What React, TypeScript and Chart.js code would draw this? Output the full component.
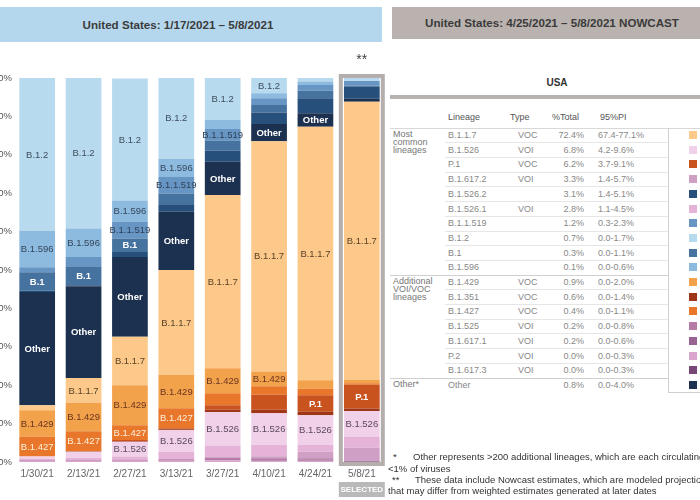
import React, { useEffect, useRef } from "react";
import { Chart, registerables } from "chart.js";

Chart.register(...registerables);

// ---------- data ----------
const dates = ["1/30/21", "2/13/21", "2/27/21", "3/13/21", "3/27/21", "4/10/21", "4/24/21", "5/8/21"];

// stacked from bottom to top
const s_B1_617_3 = [0, 0, 0, 0, 0, 0, 0, 0.0];
const s_P2 = [0.3, 0.3, 0.3, 0.3, 0.4, 0.3, 0.3, 0.0];
const s_B1_617_1 = [0, 0, 0, 0, 0, 0.2, 0.3, 0.2];
const s_B1_525 = [0.3, 0.3, 0.3, 0.4, 0.7, 0.5, 0.4, 0.2];
const s_B1_617_2 = [0, 0, 0, 0, 0.2, 0.5, 1.7, 3.3];
const s_B1_526_1 = [0.2, 0.5, 0.8, 2.0, 3.0, 3.0, 1.7, 2.8];
const s_B1_526 = [0.6, 1.6, 3.9, 5.6, 8.7, 8.2, 7.8, 6.8];
const s_B1_351 = [0, 0.1, 0.2, 0.2, 0.6, 0.9, 0.9, 0.6];
const s_P1 = [0, 0, 0.2, 0.3, 1.2, 3.9, 4.3, 6.2];
const s_B1_427 = [5.2, 5.2, 3.9, 5.2, 3.1, 2.2, 1.7, 0.4];
const s_B1_429 = [6.9, 7.4, 10.4, 8.7, 6.5, 3.9, 2.2, 0.9];
const s_B1_1_7 = [1.3, 6.5, 12.6, 27.3, 45.1, 59.9, 66.0, 72.4];
const s_Other = [29.5, 23.9, 20.8, 15.2, 8.7, 4.5, 3.5, 0.8];
const s_B1_526_2 = [0.3, 0.2, 1.3, 1.7, 2.9, 3.0, 3.9, 3.1];
const s_B1 = [4.8, 4.8, 3.5, 3.0, 2.6, 2.0, 2.0, 0.3];
const s_B1_1_519 = [1.3, 2.6, 4.3, 4.3, 3.0, 1.7, 1.5, 1.2];
const s_B1_596 = [9.5, 7.4, 5.6, 4.8, 2.4, 1.3, 0.9, 0.1];
const s_B1_2 = [39.8, 39.2, 31.8, 21.1, 10.9, 4.0, 1.0, 0.7];

const stackOrder: [string, number[]][] = [
  ["B.1.617.3", s_B1_617_3],
  ["P.2", s_P2],
  ["B.1.617.1", s_B1_617_1],
  ["B.1.525", s_B1_525],
  ["B.1.617.2", s_B1_617_2],
  ["B.1.526.1", s_B1_526_1],
  ["B.1.526", s_B1_526],
  ["B.1.351", s_B1_351],
  ["P.1", s_P1],
  ["B.1.427", s_B1_427],
  ["B.1.429", s_B1_429],
  ["B.1.1.7", s_B1_1_7],
  ["Other", s_Other],
  ["B.1.526.2", s_B1_526_2],
  ["B.1", s_B1],
  ["B.1.1.519", s_B1_1_519],
  ["B.1.596", s_B1_596],
  ["B.1.2", s_B1_2],
];

// lineages that carry a text label inside each bar
const labeledPerDate = [
  ["B.1.2", "B.1.596", "B.1", "Other", "B.1.429", "B.1.427"],
  ["B.1.2", "B.1.596", "B.1", "Other", "B.1.1.7", "B.1.429", "B.1.427"],
  ["B.1.2", "B.1.596", "B.1.1.519", "B.1", "Other", "B.1.1.7", "B.1.429", "B.1.427", "B.1.526"],
  ["B.1.2", "B.1.596", "B.1.1.519", "Other", "B.1.1.7", "B.1.429", "B.1.427", "B.1.526"],
  ["B.1.2", "B.1.1.519", "Other", "B.1.1.7", "B.1.429", "B.1.526"],
  ["B.1.2", "Other", "B.1.1.7", "B.1.429", "B.1.526"],
  ["Other", "B.1.1.7", "P.1", "B.1.526"],
  ["B.1.1.7", "P.1", "B.1.526"],
];

const yTicks = [0, 10, 20, 30, 40, 50, 60, 70, 80, 90, 100];

// Nowcast table
const tLineages = ["B.1.1.7", "B.1.526", "P.1", "B.1.617.2", "B.1.526.2", "B.1.526.1", "B.1.1.519", "B.1.2", "B.1", "B.1.596", "B.1.429", "B.1.351", "B.1.427", "B.1.525", "B.1.617.1", "P.2", "B.1.617.3", "Other"];
const tTypes = ["VOC", "VOI", "VOC", "VOI", "", "VOI", "", "", "", "", "VOC", "VOC", "VOC", "VOI", "VOI", "VOI", "VOI", ""];
const tTotals = ["72.4%", "6.8%", "6.2%", "3.3%", "3.1%", "2.8%", "1.2%", "0.7%", "0.3%", "0.1%", "0.9%", "0.6%", "0.4%", "0.2%", "0.2%", "0.0%", "0.0%", "0.8%"];
const tPI = ["67.4-77.1%", "4.2-9.6%", "3.7-9.1%", "1.4-5.7%", "1.4-5.1%", "1.1-4.5%", "0.3-2.3%", "0.0-1.7%", "0.0-1.1%", "0.0-0.6%", "0.0-2.0%", "0.0-1.4%", "0.0-1.1%", "0.0-0.8%", "0.0-0.6%", "0.0-0.3%", "0.0-0.3%", "0.0-4.0%"];
const tGroups: [number, string[]][] = [
  [0, ["Most", "common", "lineages"]],
  [10, ["Additional", "VOI/VOC", "lineages"]],
  [17, ["Other*"]],
];

// ---------- styles ----------
const colorOf: Record<string, string> = {
  "B.1.2": "#b8daee",
  "B.1.596": "#8dbadf",
  "B.1.1.519": "#6896c4",
  "B.1": "#45729f",
  "B.1.526.2": "#274f7b",
  "Other": "#1c3050",
  "B.1.1.7": "#fdc98b",
  "B.1.429": "#f3a24c",
  "B.1.427": "#e8772b",
  "P.1": "#c9531f",
  "B.1.351": "#9f3617",
  "B.1.526": "#f1d1ea",
  "B.1.526.1": "#e6b3d8",
  "B.1.617.2": "#cf9fc6",
  "B.1.525": "#b57aa5",
  "B.1.617.1": "#9a6392",
  "P.2": "#daa5cd",
  "B.1.617.3": "#774777",
};

const labelColorOf: Record<string, string> = {
  "B.1.2": "#3e4d5e",
  "B.1.596": "#34475c",
  "B.1.1.519": "#2e3f55",
  "B.1": "#ffffff",
  "Other": "#ffffff",
  "B.1.1.7": "#5a4226",
  "B.1.429": "#6a3420",
  "B.1.427": "#fff0dc",
  "P.1": "#ffffff",
  "B.1.526": "#5a4a5a",
};

const FONT = "Arial, 'Liberation Sans', sans-serif";

const labelPlugin = {
  id: "segLabels",
  afterDatasetsDraw(chart: any) {
    const ctx = chart.ctx;
    ctx.save();
    ctx.textAlign = "center";
    ctx.textBaseline = "middle";
    chart.data.datasets.forEach((ds: any, i: number) => {
      const meta = chart.getDatasetMeta(i);
      meta.data.forEach((el: any, j: number) => {
        if (!labeledPerDate[j].includes(ds.label)) return;
        const y = (el.y + el.base) / 2;
        const bold = ds.label === "Other" || ds.label === "B.1" || ds.label === "P.1";
        ctx.font = (bold ? "bold " : "") + "9.5px " + FONT;
        ctx.fillStyle = labelColorOf[ds.label] || "#333";
        ctx.fillText(ds.label, el.x, y + 0.5);
      });
    });
    ctx.restore();
  },
};

const selectedPlugin = {
  id: "selected",
  afterDatasetsDraw(chart: any) {
    const ctx = chart.ctx;
    const ca = chart.chartArea;
    const cx = chart.scales.x.getPixelForValue(dates.length - 1);
    ctx.save();
    ctx.strokeStyle = "#b4afac";
    ctx.lineWidth = 4;
    ctx.strokeRect(cx - 21, ca.top - 2, 42, ca.bottom - ca.top + 4);
    ctx.fillStyle = "#444";
    ctx.font = "14px " + FONT;
    ctx.textAlign = "center";
    ctx.textBaseline = "middle";
    ctx.fillText("**", cx, ca.top - 18);
    ctx.fillStyle = "#b9b9b9";
    ctx.fillRect(cx - 23, ca.bottom + 20, 46, 15);
    ctx.fillStyle = "#ffffff";
    ctx.font = "bold 8px " + FONT;
    ctx.fillText("SELECTED", cx, ca.bottom + 28);
    ctx.restore();
  },
};

function Txt(props: { x: number; y: number; children: any; size?: number; color?: string; bold?: boolean; align?: "left" | "right" | "center"; w?: number }) {
  const { x, y, size = 9, color = "#888", bold = false, align = "left", w = 200 } = props;
  const left = align === "left" ? x : align === "right" ? x - w : x - w / 2;
  return (
    <div
      style={{
        position: "absolute",
        left,
        top: y - 7,
        width: w,
        height: 14,
        lineHeight: "14px",
        fontSize: size,
        fontWeight: bold ? "bold" : "normal",
        color,
        textAlign: align,
        whiteSpace: "nowrap",
        fontFamily: FONT,
      }}
    >
      {props.children}
    </div>
  );
}

function Line(props: { x1: number; x2: number; y: number; color?: string; h?: number }) {
  const { x1, x2, y, color = "#e2e2e2", h = 1 } = props;
  return <div style={{ position: "absolute", left: x1, top: y, width: x2 - x1, height: h, background: color }} />;
}

function VLine(props: { x: number; y1: number; y2: number; color?: string }) {
  const { x, y1, y2, color = "#d0d0d0" } = props;
  return <div style={{ position: "absolute", left: x, top: y1, width: 1, height: y2 - y1, background: color }} />;
}

const ROW0 = 135;
const PITCH = 14.7;

export default function App() {
  const ref = useRef<HTMLCanvasElement>(null);
  useEffect(() => {
    const canvas = ref.current!;
    const chart = new Chart(canvas, {
      type: "bar",
      data: {
        labels: dates,
        datasets: stackOrder.map(([name, data]) => ({
          label: name,
          data,
          backgroundColor: colorOf[name],
          borderWidth: 0,
          barPercentage: 0.77,
          categoryPercentage: 1,
        })),
      },
      options: {
        responsive: false,
        animation: false,
        layout: { padding: { top: 34, right: 5, left: 0, bottom: 0 } },
        plugins: { legend: { display: false }, tooltip: { enabled: false } },
        scales: {
          x: {
            stacked: true,
            grid: { display: false, drawTicks: false },
            border: { display: false },
            ticks: { color: "#666", font: { size: 10, family: FONT }, padding: 6, maxRotation: 0, autoSkip: false },
            afterFit: (s: any) => {
              s.height = 38;
            },
          },
          y: {
            stacked: true,
            min: 0,
            max: 100,
            grid: { display: false, drawTicks: false },
            border: { display: false },
            afterBuildTicks: (s: any) => {
              s.ticks = yTicks.map((v) => ({ value: v }));
            },
            ticks: {
              color: "#555",
              font: { size: 9.5, family: FONT },
              padding: 2,
              callback: (v: any) => v + "%",
            },
            afterFit: (s: any) => {
              s.width = 34;
            },
          },
        },
      } as any,
      plugins: [selectedPlugin, labelPlugin],
    });
    return () => chart.destroy();
  }, []);

  const rows = tLineages.map((_, k) => ROW0 + k * PITCH);

  return (
    <div
      style={{
        position: "fixed",
        left: 0,
        top: 0,
        width: 700,
        height: 500,
        overflow: "hidden",
        background: "#ffffff",
        fontFamily: FONT,
      }}
    >
      {/* left header */}
      <div
        style={{
          position: "absolute",
          left: -26,
          top: 7,
          width: 408,
          height: 35,
          background: "#b5d7ed",
          color: "#3b3b3b",
          fontWeight: "bold",
          fontSize: 11.6,
          lineHeight: "35px",
          textAlign: "center",
        }}
      >
        United States: 1/17/2021 – 5/8/2021
      </div>
      {/* right header */}
      <div
        style={{
          position: "absolute",
          left: 392,
          top: 7,
          width: 320,
          height: 32,
          background: "#b9b2ae",
          color: "#3b3b3b",
          fontWeight: "bold",
          fontSize: 11.6,
          lineHeight: "32px",
          textAlign: "center",
        }}
      >
        United States: 4/25/2021 – 5/8/2021 NOWCAST
      </div>

      <canvas
        ref={ref}
        width={410}
        height={456}
        style={{ position: "absolute", left: -20, top: 44, width: 410, height: 456 }}
      />

      {/* nowcast table */}
      <Txt x={557} y={83} align="center" bold size={10} color="#333">
        USA
      </Txt>
      <Line x1={390} x2={700} y={95} h={4} color="#b7b2af" />
      <Txt x={448} y={117} color="#555">Lineage</Txt>
      <Txt x={510} y={117} color="#555">Type</Txt>
      <Txt x={552} y={117} color="#555">%Total</Txt>
      <Txt x={600} y={117} color="#555">95%PI</Txt>
      <Line x1={390} x2={700} y={128} color="#d8d8d8" />

      {rows.slice(0, -1).map((y, k) => {
        const group = k === 9 || k === 16;
        return (
          <Line
            key={"l" + k}
            x1={group ? 390 : 445}
            x2={668}
            y={Math.round(y + PITCH / 2)}
            color={group ? "#cfcfcf" : "#e6e6e6"}
          />
        );
      })}
      <VLine x={668} y1={128} y2={392} />
      <Line x1={668} x2={700} y={392} color="#d0d0d0" />

      {tGroups.map(([k, lines]) => (
        <div
          key={"g" + k}
          style={{
            position: "absolute",
            left: 393,
            top: rows[k] - 5,
            fontSize: 9,
            lineHeight: "8px",
            color: "#777",
            whiteSpace: "pre",
          }}
        >
          {lines.join("\n")}
        </div>
      ))}

      {tLineages.map((name, k) => (
        <React.Fragment key={"r" + k}>
          <Txt x={448} y={rows[k]}>{name}</Txt>
          <Txt x={518} y={rows[k]}>{tTypes[k]}</Txt>
          <Txt x={584} y={rows[k]} align="right" w={60}>{tTotals[k]}</Txt>
          <Txt x={598} y={rows[k]}>{tPI[k]}</Txt>
          <div
            style={{
              position: "absolute",
              left: 689,
              top: rows[k] - 4,
              width: 8,
              height: 8,
              background: colorOf[name],
            }}
          />
        </React.Fragment>
      ))}

      {/* footnotes */}
      <Txt x={393} y={457} color="#333" size={9.5}>*</Txt>
      <Txt x={413} y={457} color="#333" size={9.5} w={320}>
        Other represents &gt;200 additional lineages, which are each circulating at
      </Txt>
      <Txt x={388} y={469} color="#333" size={9.5}>&lt;1% of viruses</Txt>
      <Txt x={392} y={480} color="#333" size={9.5}>**</Txt>
      <Txt x={415} y={480} color="#333" size={9.5} w={320}>
        These data include Nowcast estimates, which are modeled projections
      </Txt>
      <Txt x={388} y={491} color="#333" size={9.5} w={320}>
        that may differ from weighted estimates generated at later dates
      </Txt>
    </div>
  );
}
